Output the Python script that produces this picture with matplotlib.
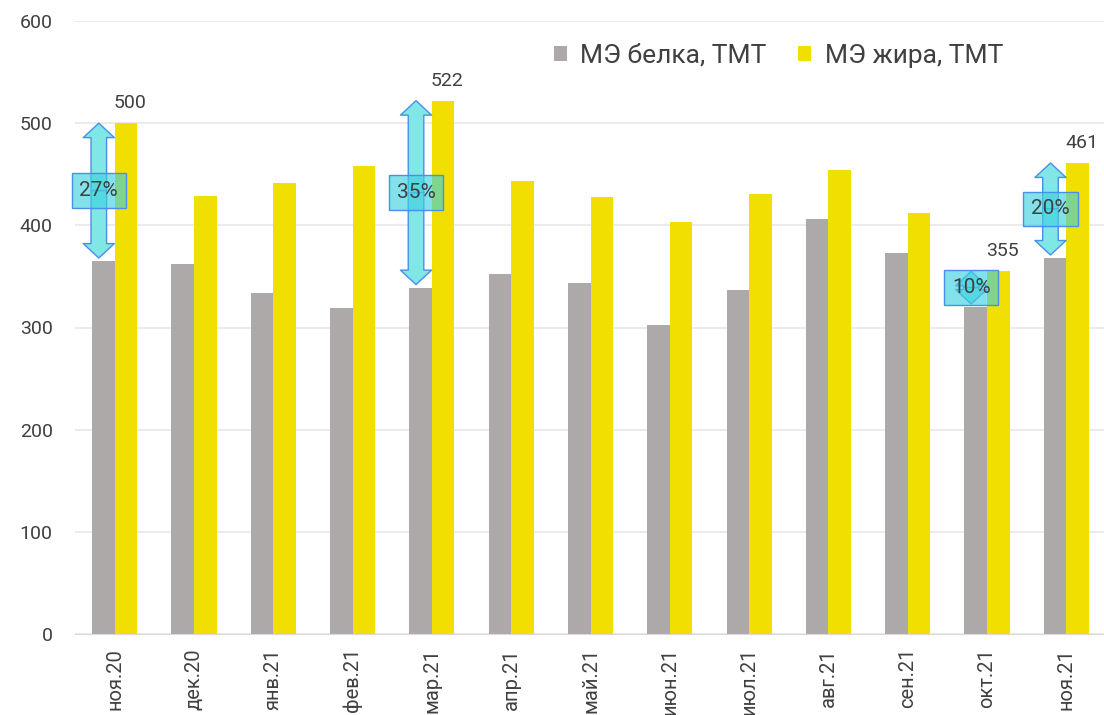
import numpy as np
import matplotlib.pyplot as plt

plt.rcParams['font.family'] = ['Roboto', 'DejaVu Sans']

months = ['ноя.20', 'дек.20', 'янв.21', 'фев.21', 'мар.21', 'апр.21', 'май.21',
          'июн.21', 'июл.21', 'авг.21', 'сен.21', 'окт.21', 'ноя.21']
protein = [365, 362, 334, 319, 339, 352, 344, 302, 337, 406, 373, 320, 368]
fat = [500, 429, 441, 458, 522, 443, 428, 403, 431, 454, 412, 355, 461]
marked = [0, 4, 11, 12]  # months with value labels and spread arrows

grey = '#ADA9A8'
yellow = '#F0DF00'
txt = '#404040'

fig = plt.figure(figsize=(11.04, 7.15), dpi=100)
ax = fig.add_axes([75/1104, 1-634/715, 1031/1104, 613/715])

x = np.arange(len(months))
w = 0.285
ax.bar(x - w/2, protein, w, color=grey, label='МЭ белка, ТМТ', zorder=2)
ax.bar(x + w/2, fat, w, color=yellow, label='МЭ жира, ТМТ', zorder=2)

for i in marked:
    ax.annotate(str(fat[i]), (x[i] + w/2, fat[i]), xytext=(3, 8),
                textcoords='offset points', ha='center', va='bottom',
                fontsize=14, color=txt)
    lo, hi = protein[i] + 3, fat[i]
    mid = (lo + hi) / 2
    xa = x[i] - 0.2
    for end in (hi, lo):
        ax.annotate('', xy=(xa, end), xytext=(xa, mid),
                    arrowprops=dict(arrowstyle='simple,head_width=1.4,head_length=0.65,tail_width=0.7',
                                    fc='#80E6E6', ec='#4A8FE7', lw=1,
                                    mutation_scale=16, shrinkA=0, shrinkB=0),
                    zorder=3)
    pct = round((fat[i] - protein[i]) / fat[i] * 100)
    ax.text(xa, mid, f'{pct}%', ha='center', va='center', fontsize=15, color=txt,
            zorder=4,
            bbox=dict(boxstyle='square,pad=0.38', fc=(0.25, 0.82, 0.88, 0.65),
                      ec='#4A8FE7', lw=1))

ax.set_xlim(-0.5, len(months) - 0.5)
ax.set_ylim(0, 600)
ax.set_yticks(range(0, 601, 100))
ax.set_xticks(x)
ax.set_xticklabels(months, rotation=90, va='top')
ax.tick_params(axis='both', length=0, labelsize=14, labelcolor=txt)
ax.tick_params(axis='x', pad=10, labelsize=14.5)
ax.tick_params(axis='y', pad=16)
ax.grid(axis='y', color='#E8E8E8', lw=1.2, zorder=0)
for s in ['top', 'right', 'left']:
    ax.spines[s].set_visible(False)
ax.spines['bottom'].set_color('#D9D9D9')

ax.legend(loc='center', bbox_to_anchor=(0.705, 0.922), bbox_transform=fig.transFigure,
          ncol=2, frameon=False, fontsize=19, handlelength=0.5, handleheight=0.5,
          handletextpad=0.5, columnspacing=1.2, labelcolor=txt)

fig.savefig('out.png', dpi=100)
